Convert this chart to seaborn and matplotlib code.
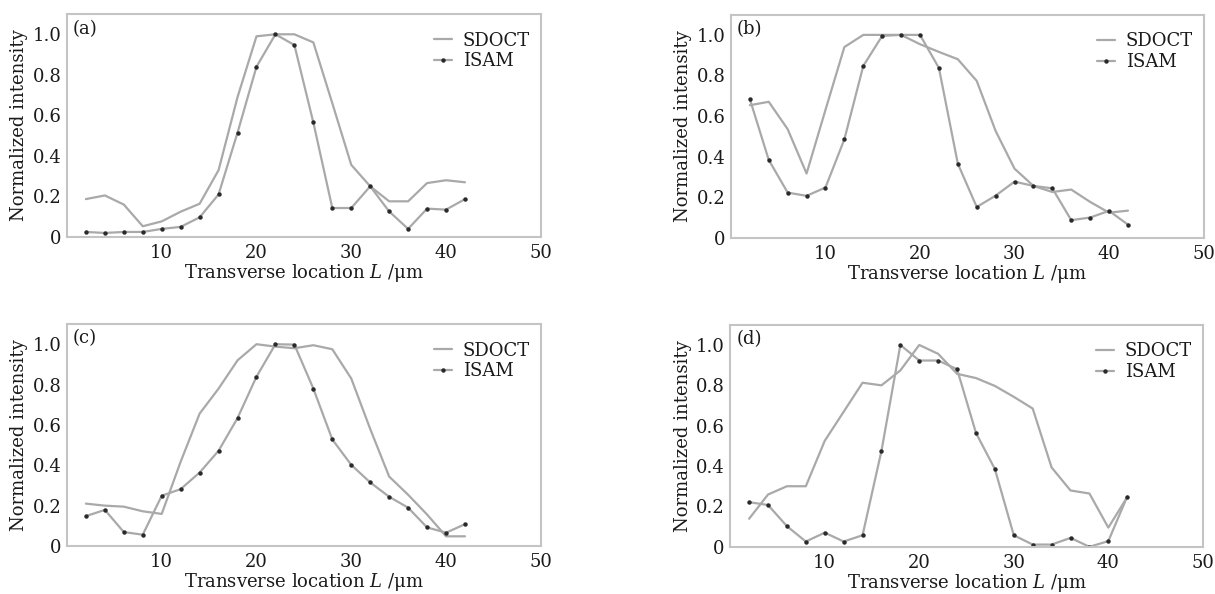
import numpy as np
import pandas as pd
import matplotlib
matplotlib.use("Agg")
import matplotlib.pyplot as plt
import seaborn as sns

# Transverse positions (µm)
positions = [2, 4, 6, 8, 10, 12, 14, 16, 18, 20, 22, 24, 26, 28, 30, 32, 34, 36, 38, 40, 42]

# Normalized intensity profiles for the four samples
sdoct_a = [0.187, 0.205, 0.16, 0.053, 0.077, 0.125, 0.164, 0.33, 0.69, 0.99, 1.0,
           1.0, 0.96, 0.66, 0.356, 0.25, 0.176, 0.176, 0.266, 0.28, 0.27]
isam_a = [0.025, 0.02, 0.025, 0.025, 0.04, 0.05, 0.097, 0.21, 0.515, 0.84, 1.0,
          0.947, 0.565, 0.143, 0.143, 0.25, 0.126, 0.04, 0.14, 0.135, 0.187]

sdoct_b = [0.653, 0.67, 0.535, 0.316, 0.63, 0.94, 1.0, 1.0, 1.0, 0.954, 0.916,
           0.88, 0.773, 0.526, 0.34, 0.255, 0.225, 0.237, 0.176, 0.123, 0.133]
isam_b = [0.683, 0.383, 0.222, 0.206, 0.247, 0.485, 0.847, 0.995, 1.0, 1.0, 0.837,
          0.365, 0.151, 0.207, 0.276, 0.255, 0.243, 0.086, 0.099, 0.132, 0.064]

sdoct_c = [0.21, 0.2, 0.195, 0.172, 0.159, 0.418, 0.656, 0.78, 0.92, 1.0, 0.988,
           0.98, 0.995, 0.975, 0.83, 0.58, 0.344, 0.254, 0.156, 0.048, 0.048]
isam_c = [0.148, 0.179, 0.069, 0.056, 0.249, 0.282, 0.364, 0.472, 0.634, 0.839, 1.0,
          0.998, 0.78, 0.528, 0.402, 0.315, 0.244, 0.19, 0.092, 0.066, 0.108]

sdoct_d = [0.139, 0.259, 0.3, 0.3, 0.525, 0.669, 0.813, 0.8, 0.874, 1.0, 0.956,
           0.857, 0.836, 0.797, 0.743, 0.685, 0.393, 0.279, 0.264, 0.095, 0.246]
isam_d = [0.221, 0.207, 0.102, 0.026, 0.07, 0.026, 0.057, 0.475, 1.0, 0.923, 0.923,
          0.88, 0.564, 0.385, 0.057, 0.011, 0.011, 0.044, 0.0, 0.028, 0.249]

panel_labels = ["(a)", "(b)", "(c)", "(d)"]
x_ticks = [10, 20, 30, 40, 50]
y_ticks = [0, 0.2, 0.4, 0.6, 0.8, 1.0]
y_tick_labels = ["0", "0.2", "0.4", "0.6", "0.8", "1.0"]

sns.set_style("white")
plt.rcParams["font.family"] = ["DejaVu Serif"]
plt.rcParams["mathtext.fontset"] = "dejavuserif"

line_color = "#a9a9a9"
dot_color = "#2a2a2a"
frame_color = "#c4c4c4"
text_color = "#1a1a1a"
fs = 13

fig = plt.figure(figsize=(12.15, 5.94), dpi=100)
rects = [
    [0.0551, 0.601, 0.390, 0.3754],
    [0.6016, 0.600, 0.389, 0.3754],
    [0.0551, 0.0808, 0.390, 0.3737],
    [0.601, 0.0795, 0.389, 0.3737],
]
series = [(sdoct_a, isam_a), (sdoct_b, isam_b), (sdoct_c, isam_c), (sdoct_d, isam_d)]

for rect, (sd, isam), lab in zip(rects, series, panel_labels):
    ax = fig.add_axes(rect)
    df = pd.DataFrame({"L": positions, "SDOCT": sd, "ISAM": isam})
    sns.lineplot(data=df, x="L", y="SDOCT", ax=ax, color=line_color, lw=1.6,
                 label="SDOCT")
    sns.lineplot(data=df, x="L", y="ISAM", ax=ax, color=line_color, lw=1.6,
                 marker="o", markersize=3.2, markerfacecolor=dot_color,
                 markeredgecolor=dot_color, markeredgewidth=0, label="ISAM")
    ax.set_xlim(0, 50)
    ax.set_ylim(0, 1.1)
    ax.set_xticks(x_ticks)
    ax.set_xticklabels([str(t) for t in x_ticks])
    ax.set_yticks(y_ticks)
    ax.set_yticklabels(y_tick_labels)
    ax.tick_params(axis="both", labelsize=fs, labelcolor=text_color)
    ax.tick_params(axis="x", direction="in", length=3, width=1, color=frame_color,
                   pad=5)
    ax.tick_params(axis="y", length=0, pad=4)
    for sp in ax.spines.values():
        sp.set_color(frame_color)
        sp.set_linewidth(1.5)
    ax.set_xlabel(r"Transverse location $\mathit{L}$ /μm", fontsize=fs,
                  color=text_color, labelpad=0)
    ax.set_ylabel("Normalized intensity", fontsize=fs, color=text_color, labelpad=3)
    ax.text(0.013, 0.975, lab, transform=ax.transAxes, ha="left", va="top",
            fontsize=fs, color=text_color)
    leg = ax.legend(loc="upper right", bbox_to_anchor=(1.0, 0.97), frameon=False,
                    fontsize=fs, handlelength=1.0, handletextpad=0.6,
                    labelspacing=0.15, borderaxespad=0.3, borderpad=0.3)
    for t in leg.get_texts():
        t.set_color(text_color)

fig.savefig("out.png", dpi=100)
